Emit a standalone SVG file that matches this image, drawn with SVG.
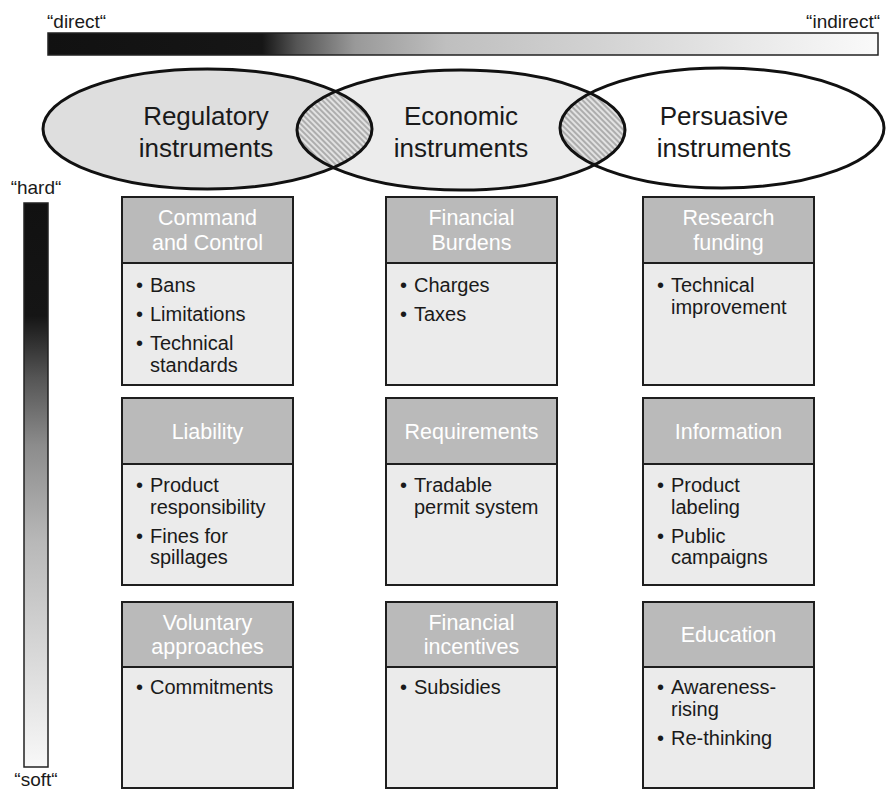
<svg xmlns="http://www.w3.org/2000/svg" width="887" height="791" viewBox="0 0 887 791">
<style>
text{font-family:"Liberation Sans",Arial,sans-serif;}
.lbl{font-size:19px;fill:#1a1a1a;}
.etitle{font-size:26px;fill:#1a1a1a;text-anchor:middle;}
.hdr{fill:#bababa;stroke:#1e1e1e;stroke-width:2;}
.body{fill:#ebebeb;stroke:#1e1e1e;stroke-width:2;}
.ht{font-size:21.5px;fill:#ffffff;text-anchor:middle;}
.bt{font-size:20px;fill:#1a1a1a;}
.ell{fill:none;stroke:#111;stroke-width:3;}
</style>
<defs>
<linearGradient id="hgrad" gradientUnits="userSpaceOnUse" x1="48" y1="0" x2="878" y2="0">
<stop offset="0" stop-color="#111"/>
<stop offset="0.258" stop-color="#161616"/>
<stop offset="0.3" stop-color="#555"/>
<stop offset="0.37" stop-color="#999"/>
<stop offset="0.48" stop-color="#bfbfbf"/>
<stop offset="0.66" stop-color="#d2d2d2"/>
<stop offset="0.84" stop-color="#e8e8e8"/>
<stop offset="1" stop-color="#fafafa"/>
</linearGradient>
<linearGradient id="vgrad" gradientUnits="userSpaceOnUse" x1="0" y1="203" x2="0" y2="767">
<stop offset="0" stop-color="#111"/>
<stop offset="0.2" stop-color="#151515"/>
<stop offset="0.31" stop-color="#555"/>
<stop offset="0.43" stop-color="#8c8c8c"/>
<stop offset="0.6" stop-color="#b8b8b8"/>
<stop offset="0.8" stop-color="#d8d8d8"/>
<stop offset="1" stop-color="#f8f8f8"/>
</linearGradient>
<pattern id="hatch" patternUnits="userSpaceOnUse" width="4" height="4" patternTransform="rotate(-45)">
<rect width="4" height="4" fill="#e2e2e2"/>
<line x1="1" y1="0" x2="1" y2="4" stroke="#8a8a8a" stroke-width="1.2"/>
</pattern>
<clipPath id="clipReg"><ellipse cx="207.5" cy="129" rx="164.5" ry="60"/></clipPath>
<clipPath id="clipPer"><ellipse cx="722" cy="128" rx="162" ry="60"/></clipPath>
</defs>

<g id="direct-indirect-scale">
<rect x="48" y="33" width="830" height="22" fill="url(#hgrad)" stroke="#222" stroke-width="1.5"/>
<text class="lbl" x="47" y="28">“direct“</text>
<text class="lbl" x="880" y="28" text-anchor="end">“indirect“</text>
</g>

<g id="hard-soft-scale">
<rect x="24" y="203" width="24" height="564" fill="url(#vgrad)" stroke="#222" stroke-width="1.5"/>
<text class="lbl" x="36" y="194" text-anchor="middle">“hard“</text>
<text class="lbl" x="36" y="786" text-anchor="middle">“soft“</text>
</g>

<g id="ellipse-fills">
<ellipse cx="207.5" cy="129" rx="164.5" ry="60" fill="#dedede"/>
<ellipse cx="461" cy="130" rx="164" ry="60" fill="#ececec"/>
<ellipse cx="722" cy="128" rx="162" ry="60" fill="#ffffff"/>
<ellipse cx="461" cy="130" rx="164" ry="60" fill="url(#hatch)" clip-path="url(#clipReg)"/>
<ellipse cx="461" cy="130" rx="164" ry="60" fill="url(#hatch)" clip-path="url(#clipPer)"/>
</g>

<g id="regulatory-instruments">
<ellipse class="ell" cx="207.5" cy="129" rx="164.5" ry="60"/>
<text class="etitle" x="206" y="125">Regulatory</text>
<text class="etitle" x="206" y="157">instruments</text>
</g>
<g id="economic-instruments">
<ellipse class="ell" cx="461" cy="130" rx="164" ry="60"/>
<text class="etitle" x="461" y="125">Economic</text>
<text class="etitle" x="461" y="157">instruments</text>
</g>
<g id="persuasive-instruments">
<ellipse class="ell" cx="722" cy="128" rx="162" ry="60"/>
<text class="etitle" x="724" y="125">Persuasive</text>
<text class="etitle" x="724" y="157">instruments</text>
</g>

<!-- Left column -->
<g id="command-and-control">
<rect class="body" x="122" y="263" width="171" height="122"/>
<rect class="hdr" x="122" y="197" width="171" height="66"/>
<text class="ht" x="207.5" y="225">Command</text>
<text class="ht" x="207.5" y="250">and Control</text>
<text class="bt" x="136" y="292">•</text><text class="bt" x="150" y="292">Bans</text>
<text class="bt" x="136" y="321">•</text><text class="bt" x="150" y="321">Limitations</text>
<text class="bt" x="136" y="350">•</text><text class="bt" x="150" y="350">Technical</text>
<text class="bt" x="150" y="371.5">standards</text>
</g>
<g id="liability">
<rect class="body" x="122" y="464" width="171" height="121"/>
<rect class="hdr" x="122" y="398" width="171" height="66"/>
<text class="ht" x="207.5" y="438.5">Liability</text>
<text class="bt" x="136" y="492">•</text><text class="bt" x="150" y="492">Product</text>
<text class="bt" x="150" y="513.5">responsibility</text>
<text class="bt" x="136" y="542.5">•</text><text class="bt" x="150" y="542.5">Fines for</text>
<text class="bt" x="150" y="564">spillages</text>
</g>
<g id="voluntary-approaches">
<rect class="body" x="122" y="667" width="171" height="121"/>
<rect class="hdr" x="122" y="602" width="171" height="65"/>
<text class="ht" x="207.5" y="629.5">Voluntary</text>
<text class="ht" x="207.5" y="654">approaches</text>
<text class="bt" x="136" y="694">•</text><text class="bt" x="150" y="694">Commitments</text>
</g>

<!-- Middle column -->
<g id="financial-burdens">
<rect class="body" x="386" y="263" width="171" height="122"/>
<rect class="hdr" x="386" y="197" width="171" height="66"/>
<text class="ht" x="471.5" y="225">Financial</text>
<text class="ht" x="471.5" y="250">Burdens</text>
<text class="bt" x="400" y="292">•</text><text class="bt" x="414" y="292">Charges</text>
<text class="bt" x="400" y="321">•</text><text class="bt" x="414" y="321">Taxes</text>
</g>
<g id="requirements">
<rect class="body" x="386" y="464" width="171" height="121"/>
<rect class="hdr" x="386" y="398" width="171" height="66"/>
<text class="ht" x="471.5" y="438.5">Requirements</text>
<text class="bt" x="400" y="492">•</text><text class="bt" x="414" y="492">Tradable</text>
<text class="bt" x="414" y="513.5">permit system</text>
</g>
<g id="financial-incentives">
<rect class="body" x="386" y="667" width="171" height="121"/>
<rect class="hdr" x="386" y="602" width="171" height="65"/>
<text class="ht" x="471.5" y="629.5">Financial</text>
<text class="ht" x="471.5" y="654">incentives</text>
<text class="bt" x="400" y="694">•</text><text class="bt" x="414" y="694">Subsidies</text>
</g>

<!-- Right column -->
<g id="research-funding">
<rect class="body" x="643" y="263" width="171" height="122"/>
<rect class="hdr" x="643" y="197" width="171" height="66"/>
<text class="ht" x="728.5" y="225">Research</text>
<text class="ht" x="728.5" y="250">funding</text>
<text class="bt" x="657" y="292">•</text><text class="bt" x="671" y="292">Technical</text>
<text class="bt" x="671" y="313.5">improvement</text>
</g>
<g id="information">
<rect class="body" x="643" y="464" width="171" height="121"/>
<rect class="hdr" x="643" y="398" width="171" height="66"/>
<text class="ht" x="728.5" y="438.5">Information</text>
<text class="bt" x="657" y="492">•</text><text class="bt" x="671" y="492">Product</text>
<text class="bt" x="671" y="513.5">labeling</text>
<text class="bt" x="657" y="542.5">•</text><text class="bt" x="671" y="542.5">Public</text>
<text class="bt" x="671" y="564">campaigns</text>
</g>
<g id="education">
<rect class="body" x="643" y="667" width="171" height="121"/>
<rect class="hdr" x="643" y="602" width="171" height="65"/>
<text class="ht" x="728.5" y="641.5">Education</text>
<text class="bt" x="657" y="694">•</text><text class="bt" x="671" y="694">Awareness-</text>
<text class="bt" x="671" y="715.5">rising</text>
<text class="bt" x="657" y="744.5">•</text><text class="bt" x="671" y="744.5">Re-thinking</text>
</g>
</svg>
